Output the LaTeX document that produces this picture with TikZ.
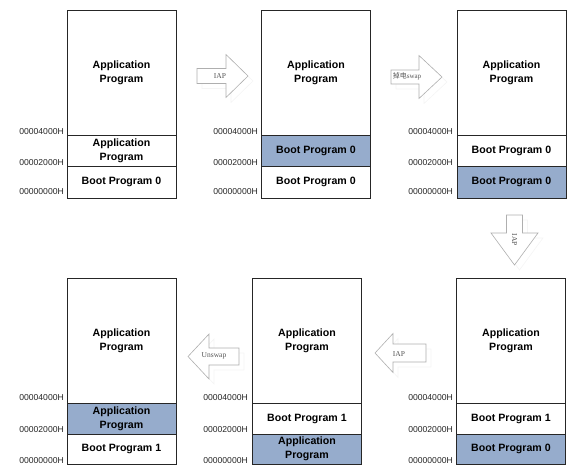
\documentclass[tikz,border=0pt]{standalone}
\usepackage{fontspec}
\setmainfont{Liberation Sans}
\newfontfamily\arrowfont{Liberation Serif}
\newfontfamily\cjk{Noto Sans CJK SC}
\definecolor{memblue}{RGB}{150,172,204}
\definecolor{arrline}{RGB}{175,175,175}
\definecolor{arrtext}{RGB}{85,85,85}
\begin{document}
\begin{tikzpicture}[x=1pt,y=-1pt,
  seg/.style={draw=black!85, line width=0.9pt, fill=white, inner sep=0pt, outer sep=0pt,
    minimum width=109pt, font=\bfseries\fontsize{10.6}{14.2}\selectfont, align=center},
  segblue/.style={seg, fill=memblue},
  addr/.style={anchor=east, inner sep=0pt, font=\fontsize{8.6}{10}\selectfont, text=black!85},
  bigarrow/.style={draw=arrline, line width=0.6pt, fill=white, line join=miter},
  arrshadow/.style={draw=black!4, line width=0.6pt, fill=white},
  arrlabel/.style={inner sep=0pt, text=arrtext, font=\arrowfont\fontsize{7.5}{9}\selectfont}]
\useasboundingbox (0,0) rectangle (584,472);

% ---------- Panel 1 (top left)
\node[seg, minimum height=125pt] (p1a) at (121.5,72.5) {Application\\Program};
\node[seg, minimum height=31pt] (p1b) at (121.5,150.5) {Application\\Program};
\node[seg, minimum height=32pt] (p1c) at (121.5,182) {Boot Program 0};
\node[addr] (p1l1) at (64,131.5) {00004000H};
\node[addr] (p1l2) at (64,162.5) {00002000H};
\node[addr] (p1l3) at (64,192) {00000000H};

% ---------- Panel 2 (top middle)
\node[seg, minimum height=125pt] (p2a) at (316,72.5) {Application\\Program};
\node[segblue, minimum height=31pt] (p2b) at (316,150.5) {Boot Program 0};
\node[seg, minimum height=32pt] (p2c) at (316,182) {Boot Program 0};
\node[addr] (p2l1) at (258,131.5) {00004000H};
\node[addr] (p2l2) at (258,162.5) {00002000H};
\node[addr] (p2l3) at (258,192) {00000000H};

% ---------- Panel 3 (top right)
\node[seg, minimum height=125pt] (p3a) at (511.5,72.5) {Application\\Program};
\node[seg, minimum height=31pt] (p3b) at (511.5,150.5) {Boot Program 0};
\node[segblue, minimum height=32pt] (p3c) at (511.5,182) {Boot Program 0};
\node[addr] (p3l1) at (453,131.5) {00004000H};
\node[addr] (p3l2) at (453,162.5) {00002000H};
\node[addr] (p3l3) at (453,192) {00000000H};

% ---------- Panel 4 (bottom right)
\node[seg, minimum height=125pt] (p4a) at (511,340.5) {Application\\Program};
\node[seg, minimum height=31pt] (p4b) at (511,418.5) {Boot Program 1};
\node[segblue, minimum height=30pt] (p4c) at (511,449) {Boot Program 0};
\node[addr] (p4l1) at (453,398) {00004000H};
\node[addr] (p4l2) at (453,430) {00002000H};
\node[addr] (p4l3) at (453,460.5) {00000000H};

% ---------- Panel 5 (bottom middle)
\node[seg, minimum height=125pt] (p5a) at (307,340.5) {Application\\Program};
\node[seg, minimum height=31pt] (p5b) at (307,418.5) {Boot Program 1};
\node[segblue, minimum height=30pt] (p5c) at (307,449) {Application\\Program};
\node[addr] (p5l1) at (248,398) {00004000H};
\node[addr] (p5l2) at (248,430) {00002000H};
\node[addr] (p5l3) at (248,460.5) {00000000H};

% ---------- Panel 6 (bottom left)
\node[seg, minimum height=125pt] (p6a) at (121.5,340.5) {Application\\Program};
\node[segblue, minimum height=31pt] (p6b) at (121.5,418.5) {Application\\Program};
\node[seg, minimum height=30pt] (p6c) at (121.5,449) {Boot Program 1};
\node[addr] (p6l1) at (64,398) {00004000H};
\node[addr] (p6l2) at (64,430) {00002000H};
\node[addr] (p6l3) at (64,460.5) {00000000H};

% ---------- Arrow 1: IAP (right)
\begin{scope}[shift={(5,5)}]
\draw[arrshadow] (197,68.5) -- (226,68.5) -- (226,54.5) -- (248,76) -- (226,97.5) -- (226,83.5) -- (197,83.5) -- cycle;
\end{scope}
\draw[bigarrow] (197,68.5) -- (226,68.5) -- (226,54.5) -- (248,76) -- (226,97.5) -- (226,83.5) -- (197,83.5) -- cycle;
\node[arrlabel] (a1) at (220,76) {IAP};

% ---------- Arrow 2: 掉电swap (right)
\begin{scope}[shift={(5,5)}]
\draw[arrshadow] (391,70) -- (419,70) -- (419,55.5) -- (442,77) -- (419,98.5) -- (419,84) -- (391,84) -- cycle;
\end{scope}
\draw[bigarrow] (391,70) -- (419,70) -- (419,55.5) -- (442,77) -- (419,98.5) -- (419,84) -- (391,84) -- cycle;
\node[arrlabel, font=\arrowfont\fontsize{7}{9}\selectfont] (a2) at (407,76.5) {{\cjk\fontsize{7}{9}\selectfont 掉电}swap};

% ---------- Arrow 3: IAP (down)
\begin{scope}[shift={(5,5)}]
\draw[arrshadow] (506.5,215) -- (522.5,215) -- (522.5,233) -- (538,233) -- (514.5,265) -- (491,233) -- (506.5,233) -- cycle;
\end{scope}
\draw[bigarrow] (506.5,215) -- (522.5,215) -- (522.5,233) -- (538,233) -- (514.5,265) -- (491,233) -- (506.5,233) -- cycle;
\node[arrlabel, rotate=-90] (a3) at (514.5,240) {IAP};

% ---------- Arrow 4: IAP (left, bottom)
\begin{scope}[shift={(5,5)}]
\draw[arrshadow] (426,344) -- (393,344) -- (393,333.5) -- (375,353) -- (393,372.5) -- (393,362) -- (426,362) -- cycle;
\end{scope}
\draw[bigarrow] (426,344) -- (393,344) -- (393,333.5) -- (375,353) -- (393,372.5) -- (393,362) -- (426,362) -- cycle;
\node[arrlabel] (a4) at (399,354) {IAP};

% ---------- Arrow 5: Unswap (left, bottom)
\begin{scope}[shift={(5,5)}]
\draw[arrshadow] (239,348) -- (209,348) -- (209,334) -- (188,356.5) -- (209,379) -- (209,365) -- (239,365) -- cycle;
\end{scope}
\draw[bigarrow] (239,348) -- (209,348) -- (209,334) -- (188,356.5) -- (209,379) -- (209,365) -- (239,365) -- cycle;
\node[arrlabel] (a5) at (214,356) {Unswap};
\end{tikzpicture}
\end{document}
